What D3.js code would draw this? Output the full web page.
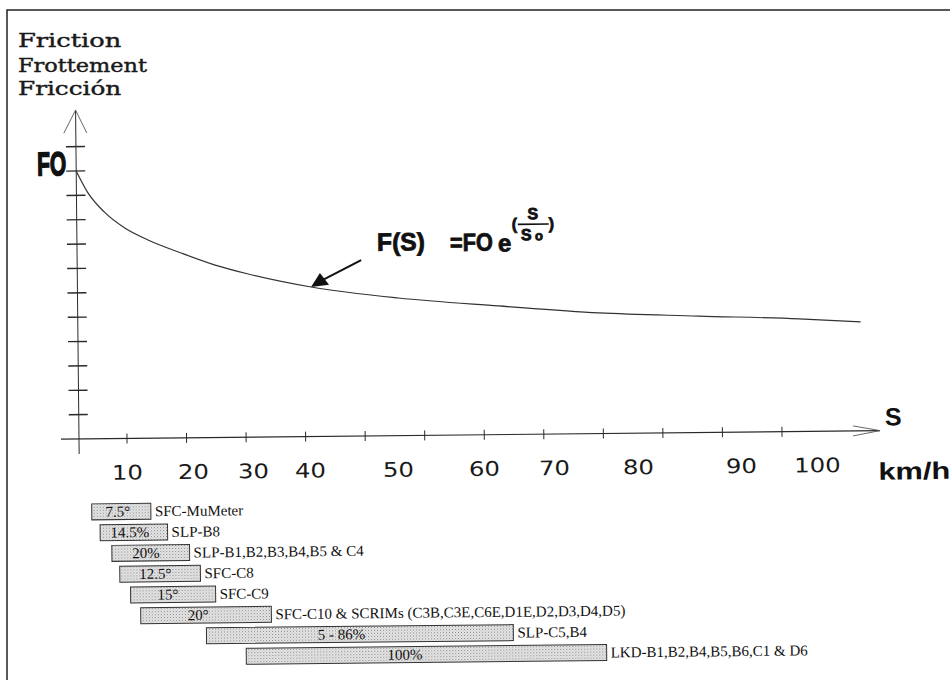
<!DOCTYPE html>
<html>
<head>
<meta charset="utf-8">
<script src="https://d3js.org/d3.v7.min.js"></script>
<style>
  body { margin: 0; background: #fff; }
  svg { display: block; }
</style>
</head>
<body>
<div id="chart"></div>
<script>
// ──── Data ────
const titleLines = ["Friction", "Frottement", "Fricción"];
const speedLabels = [10, 20, 30, 40, 50, 60, 70, 80, 90, 100];

// friction curve (F0 = 11 tick units)
const curveSpeed = [0, 2.3, 5.8, 10, 13.5, 18.5, 24, 29.5, 40.3, 50.2, 62.3, 75.5, 86, 97.8, 105.9];
const curveFriction = [11, 10.13, 9.3, 8.64, 8.14, 7.59, 7.08, 6.7, 6.14, 5.65, 5.28, 4.95, 4.78, 4.62, 4.47];

// measuring devices and their speed ranges (km/h)
const devices = [
    "SFC-MuMeter",
    "SLP-B8",
    "SLP-B1,B2,B3,B4,B5 & C4",
    "SFC-C8",
    "SFC-C9",
    "SFC-C10 & SCRIMs (C3B,C3E,C6E,D1E,D2,D3,D4,D5)",
    "SLP-C5,B4",
    "LKD-B1,B2,B4,B5,B6,C1 & D6"
];
const deviceTags = ["7.5°", "14.5%", "20%", "12.5°", "15°", "20°", "5 - 86%", "100%"];
const speedFrom = [2.5, 4.2, 6.6, 8.2, 10.3, 11.8, 21.9, 28.5];
const speedTo = [13.5, 16.0, 19.3, 21.0, 23.5, 32.9, 63.9, 76.0];

const yTickCount = 12;
const xTickCount = 12;

// ──── Scales ────
// the speed axis of the drawing is not evenly spaced
const xScale = d3.scaleLinear()
    .domain([0, 10, 20, 30, 40, 50, 60, 70, 80, 90, 100])
    .range([79, 127, 193, 253, 310, 398, 484, 554, 638, 741, 817]);

const xTick = d3.scaleLinear().domain([1, xTickCount]).range([127, 782]);

const yScale = d3.scaleLinear().domain([0, 11]).range([439, 171]);

const rowScale = d3.scalePoint().domain(devices).range([512, 658]);

const svg = d3.select("#chart")
    .append("svg")
    .attr("width", 950)
    .attr("height", 680);

svg.append("rect").attr("width", 950).attr("height", 680).attr("fill", "#fff");

const defs = svg.append("defs");
const pat = defs.append("pattern")
    .attr("id", "stipple")
    .attr("width", 3).attr("height", 3)
    .attr("patternUnits", "userSpaceOnUse");
pat.append("rect").attr("width", 3).attr("height", 3).attr("fill", "#e8e8e8");
pat.append("rect").attr("width", 1).attr("height", 1).attr("fill", "#808080");
pat.append("rect").attr("x", 1.5).attr("y", 1.5).attr("width", 1).attr("height", 1).attr("fill", "#a8a8a8");

// page frame
svg.append("path")
    .attr("d", "M7,680 V10 H950")
    .attr("fill", "none")
    .attr("stroke", "#222")
    .attr("stroke-width", 1.5);

// title lines
svg.append("g")
    .selectAll("text")
    .data(titleLines)
    .join("text")
    .attr("x", 18)
    .attr("y", (d, i) => [47, 72, 95][i])
    .attr("font-family", "DejaVu Serif, serif")
    .attr("font-size", 18)
    .attr("fill", "#1a1a1a")
    .attr("stroke", "#1a1a1a")
    .attr("stroke-width", 0.4)
    .attr("textLength", d => d.length * 12.9)
    .attr("lengthAdjust", "spacingAndGlyphs")
    .text(d => d);

// the scanned drawing is slightly tilted
const g = svg.append("g").attr("transform", "rotate(-0.6, 79, 439)");

// ──── Axes ────
const axisColor = "#2a2a2a";
const x0 = xScale(0), y0 = yScale(0);
const yTop = yScale(13.5);
const xEnd = xScale(108.3);

g.append("line")
    .attr("x1", x0).attr("x2", x0)
    .attr("y1", yTop).attr("y2", y0 + 15)
    .attr("stroke", axisColor).attr("stroke-width", 1);

g.append("path")
    .attr("d", `M${x0 - 12},${yTop + 23} L${x0},${yTop} L${x0 + 11},${yTop + 23}`)
    .attr("fill", "none").attr("stroke", "#555").attr("stroke-width", 0.9);

g.append("line")
    .attr("x1", x0 - 18).attr("x2", xEnd)
    .attr("y1", y0).attr("y2", y0)
    .attr("stroke", axisColor).attr("stroke-width", 1.2);

g.append("path")
    .attr("d", `M${xEnd - 27},${y0 - 5} L${xEnd},${y0} L${xEnd - 27},${y0 + 5}`)
    .attr("fill", "none").attr("stroke", "#555").attr("stroke-width", 0.9);

// y ticks cross the axis
g.append("g")
    .selectAll("line")
    .data(d3.range(1, yTickCount + 1))
    .join("line")
    .attr("x1", x0 - 10).attr("x2", x0 + 9)
    .attr("y1", d => yScale(d)).attr("y2", d => yScale(d))
    .attr("stroke", axisColor).attr("stroke-width", 1.4);

// x ticks
g.append("g")
    .selectAll("line")
    .data(d3.range(1, xTickCount + 1))
    .join("line")
    .attr("x1", d => xTick(d)).attr("x2", d => xTick(d))
    .attr("y1", y0 - 5).attr("y2", y0 + 5)
    .attr("stroke", axisColor).attr("stroke-width", 1);

// speed labels
g.append("g")
    .selectAll("text")
    .data(speedLabels)
    .join("text")
    .attr("x", d => xScale(d))
    .attr("y", 480)
    .attr("text-anchor", "middle")
    .attr("font-family", "DejaVu Sans, sans-serif")
    .attr("font-size", 20)
    .attr("fill", "#1a1a1a")
    .attr("textLength", d => String(d).length * 15.5)
    .attr("lengthAdjust", "spacingAndGlyphs")
    .text(d => d);

g.append("text")
    .attr("x", 885).attr("y", 434)
    .attr("font-family", "Liberation Sans, Arial, sans-serif")
    .attr("font-weight", "bold").attr("font-size", 25)
    .attr("fill", "#111")
    .text("S");

g.append("text")
    .attr("x", 878).attr("y", 488)
    .attr("font-family", "Liberation Sans, Arial, sans-serif")
    .attr("font-weight", "bold").attr("font-size", 24)
    .attr("fill", "#111")
    .attr("textLength", 72).attr("lengthAdjust", "spacingAndGlyphs")
    .text("km/h");

g.append("text")
    .attr("x", 40).attr("y", 175)
    .attr("font-family", "Liberation Sans Narrow, Liberation Sans, Arial, sans-serif")
    .attr("font-weight", "bold").attr("font-size", 33)
    .attr("fill", "#111")
    .attr("stroke", "#111").attr("stroke-width", 1.6)
    .attr("textLength", 29).attr("lengthAdjust", "spacingAndGlyphs")
    .text("FO");

// ──── Friction curve ────
const curveData = curveSpeed.map((s, i) => ({ s, f: curveFriction[i] }));

const line = d3.line()
    .x(d => xScale(d.s))
    .y(d => yScale(d.f))
    .curve(d3.curveMonotoneX);

g.append("path")
    .datum(curveData)
    .attr("d", line)
    .attr("fill", "none")
    .attr("stroke", "#333")
    .attr("stroke-width", 1.2);

// ──── Formula annotation ────
const tip = { x: xScale(40.3), y: yScale(6.14) };
g.append("line")
    .attr("x1", 363).attr("y1", 263)
    .attr("x2", tip.x + 10).attr("y2", tip.y - 6)
    .attr("stroke", "#111").attr("stroke-width", 2);
g.append("path")
    .attr("d", `M${tip.x},${tip.y} l18,-2 l-9,-12 Z`)
    .attr("fill", "#111");

const formula = g.append("g")
    .attr("font-family", "Liberation Sans, Arial, sans-serif")
    .attr("font-weight", "bold")
    .attr("fill", "#111")
    .attr("stroke", "#111")
    .attr("stroke-width", 0.8);

formula.append("text").attr("x", 379).attr("y", 254).attr("font-size", 25)
    .attr("textLength", 48).attr("lengthAdjust", "spacingAndGlyphs").text("F(S)");
formula.append("text").attr("x", 452).attr("y", 255).attr("font-size", 25)
    .attr("textLength", 43).attr("lengthAdjust", "spacingAndGlyphs").text("=FO");
formula.append("text").attr("x", 500).attr("y", 256).attr("font-size", 24).text("e");
formula.append("text").attr("x", 514).attr("y", 234).attr("font-size", 16).text("(");
formula.append("text").attr("x", 535).attr("y", 224).attr("font-size", 16)
    .attr("text-anchor", "middle").text("S");
formula.append("line")
    .attr("x1", 520).attr("x2", 551).attr("y1", 229).attr("y2", 229)
    .attr("stroke-width", 1.6);
formula.append("text").attr("x", 523).attr("y", 245).attr("font-size", 16).text("S");
formula.append("text").attr("x", 537).attr("y", 245).attr("font-size", 13).text("o");
formula.append("text").attr("x", 551).attr("y", 234).attr("font-size", 16).text(")");

// ──── Device speed ranges ────
const barH = 16;
const rows = devices.map((name, i) => ({
    name, tag: deviceTags[i], from: speedFrom[i], to: speedTo[i]
}));

const bars = g.append("g")
    .selectAll("g")
    .data(rows)
    .join("g")
    .attr("font-family", "Liberation Serif, Times New Roman, serif")
    .attr("fill", "#111");

bars.append("rect")
    .attr("x", d => xScale(d.from))
    .attr("y", d => rowScale(d.name) - barH / 2)
    .attr("width", d => xScale(d.to) - xScale(d.from))
    .attr("height", barH)
    .attr("fill", "url(#stipple)")
    .attr("stroke", "#333")
    .attr("stroke-width", 1);

bars.append("text")
    .attr("x", d => xScale(d.from) + 0.44 * (xScale(d.to) - xScale(d.from)))
    .attr("y", d => rowScale(d.name) + 5)
    .attr("text-anchor", "middle")
    .attr("font-size", 15)
    .text(d => d.tag);

bars.append("text")
    .attr("x", d => xScale(d.to) + 4)
    .attr("y", d => rowScale(d.name) + 5)
    .attr("font-size", 15)
    .text(d => d.name);
</script>
</body>
</html>
